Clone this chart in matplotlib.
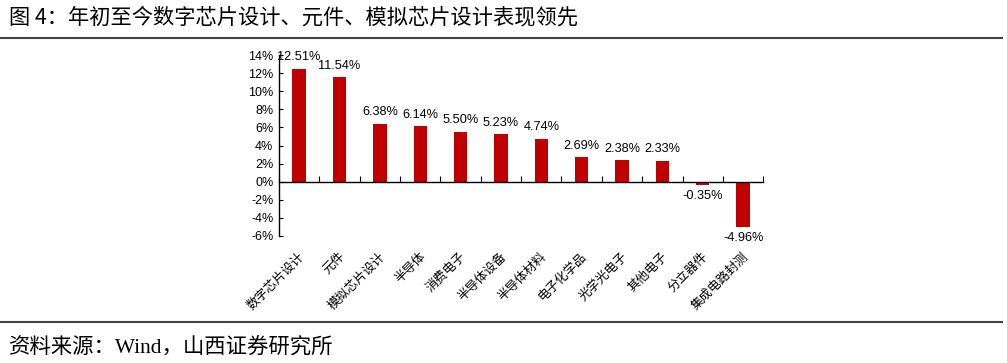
import matplotlib
matplotlib.use("Agg")
import matplotlib.pyplot as plt
from matplotlib.lines import Line2D
import numpy as np

categories = ["数字芯片设计", "元件", "模拟芯片设计", "半导体", "消费电子", "半导体设备",
              "半导体材料", "电子化学品", "光学光电子", "其他电子", "分立器件", "集成电路封测"]
values = [12.51, 11.54, 6.38, 6.14, 5.50, 5.23, 4.74, 2.69, 2.38, 2.33, -0.35, -4.96]
yticks = [-6, -4, -2, 0, 2, 4, 6, 8, 10, 12, 14]

title = "图 4：年初至今数字芯片设计、元件、模拟芯片设计表现领先"
source = "资料来源：Wind，山西证券研究所"

cjk = ["Noto Sans CJK SC", "DejaVu Sans"]
lat = ["Liberation Sans", "Noto Sans CJK SC"]

fig = plt.figure(figsize=(10.07, 3.63), dpi=100)
ax = fig.add_axes([0.277, 0.350, 0.481, 0.498])

x = np.arange(len(categories))
ax.bar(x, values, width=0.33, color="#C00000", zorder=2)
ax.set_xlim(-0.5, len(categories) - 0.5)
ax.set_ylim(-6, 14)
ax.set_yticks(yticks)
ax.set_yticklabels([f"{v}%" for v in yticks], family=lat, fontsize=9)

for s in ["top", "right"]:
    ax.spines[s].set_visible(False)
ax.spines["bottom"].set_position(("data", 0))
ax.spines["bottom"].set_linewidth(1.0)
ax.spines["left"].set_linewidth(1.0)
ax.tick_params(axis="y", direction="in", length=3, width=0.8, pad=4)

# category boundary ticks on the zero line
ax.set_xticks(np.arange(len(categories) + 1) - 0.5)
ax.set_xticklabels([])
ax.tick_params(axis="x", direction="in", length=4, width=0.8)

# category labels, rotated, placed below the axes
for i, c in enumerate(categories):
    ax.annotate(c, xy=(i, -6), xycoords="data", xytext=(-1, -10), textcoords="offset points",
                rotation=45, ha="right", va="top", rotation_mode="anchor",
                family=cjk, fontsize=9)

for i, v in enumerate(values):
    if v >= 0:
        ax.annotate(f"{v:.2f}%", xy=(i, v), xytext=(0, 4), textcoords="offset points",
                    ha="center", va="bottom", family=lat, fontsize=9.2)
    else:
        ax.annotate(f"{v:.2f}%", xy=(i, v), xytext=(0, -4), textcoords="offset points",
                    ha="center", va="top", family=lat, fontsize=9.2)

fig.text(0.009, 1 - 17 / 363, title, family=cjk, fontsize=15.3, va="center", ha="left")
fig.add_artist(Line2D([0.0, 0.995], [1 - 38 / 363, 1 - 38 / 363], transform=fig.transFigure,
                      color="#404040", linewidth=1.5))
fig.add_artist(Line2D([0.0, 0.995], [1 - 322 / 363, 1 - 322 / 363], transform=fig.transFigure,
                      color="#404040", linewidth=1.5))
fig.text(0.009, 1 - 347 / 363, source, family=["Liberation Serif", "Noto Sans CJK SC"],
         fontsize=15.4, va="center", ha="left")

fig.savefig("out.png", dpi=100)
